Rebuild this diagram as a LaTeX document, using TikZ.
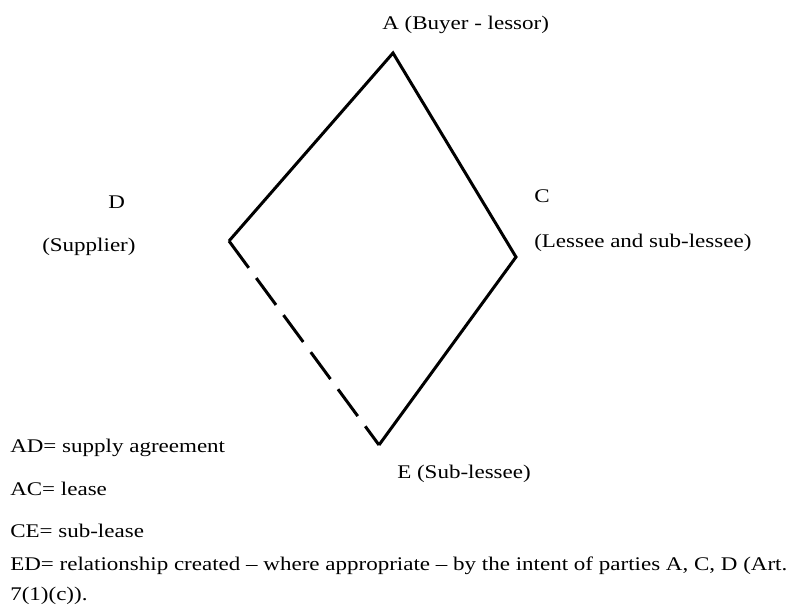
\documentclass[tikz,border=0pt]{standalone}
\usepackage{fontspec}
\setmainfont{Liberation Serif}[FakeStretch=1.19]
\begin{document}
\begin{tikzpicture}[x=0.75pt,y=-0.75pt,
  lbl/.style={anchor=base west,inner sep=0pt,font=\fontsize{14.5}{17}\selectfont},
  edge/.style={line width=2.25pt,line join=miter},
  dashedge/.style={line width=2.25pt,dash pattern=on 25pt off 9.5pt}]
\useasboundingbox (0,0) rectangle (807,614);
\coordinate (A) at (393,53);
\coordinate (D) at (229,241);
\coordinate (C) at (516,257);
\coordinate (E) at (379,445);
\draw[edge] (E) -- (C) -- (A) -- (D);
\draw[dashedge] (D) -- (E);
\node[lbl] (la) at (382,29) {A (Buyer - lessor)};
\node[lbl] (ld) at (108,208) {D};
\node[lbl] (lds) at (42,251) {(Supplier)};
\node[lbl] (lc) at (534,202) {C};
\node[lbl] (lcs) at (534,247) {(Lessee and sub-lessee)};
\node[lbl] (le) at (397,478) {E (Sub-lessee)};
\node[lbl] (k1) at (10,452) {AD= supply agreement};
\node[lbl] (k2) at (10,495) {AC= lease};
\node[lbl] (k3) at (10,537) {CE= sub-lease};
\node[lbl] (k4) at (10,570) {ED= relationship created – where appropriate – by the intent of parties A, C, D (Art.};
\node[lbl] (k5) at (10,600) {7(1)(c)).};
\end{tikzpicture}
\end{document}
